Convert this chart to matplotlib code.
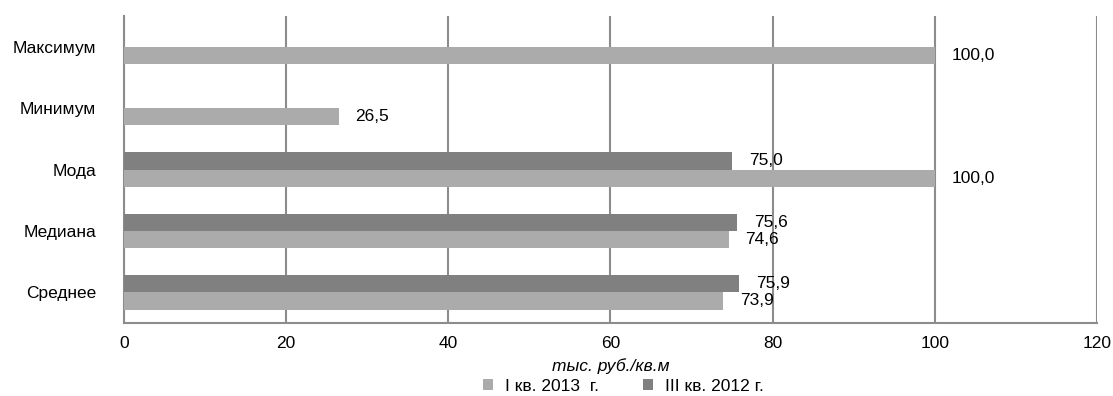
import numpy as np
from matplotlib import pyplot as plt

plt.rcParams['font.family'] = ['Liberation Sans', 'DejaVu Sans']

# данные
categories = ['Среднее', 'Медиана', 'Мода', 'Минимум', 'Максимум']
q1_2013 = [73.9, 74.6, 100.0, 26.5, 100.0]
q3_2012 = [75.9, 75.6, 75.0, np.nan, np.nan]
label_q1_2013 = 'I кв. 2013  г.'
label_q3_2012 = 'III кв. 2012 г.'
x_ticks = [0, 20, 40, 60, 80, 100, 120]

c_light = '#ababab'
c_dark = '#808080'
c_grid = '#8c8c8c'
fs = 12.5

fig = plt.figure(figsize=(11.13, 3.96), dpi=100)
ax = fig.add_axes([0.1114, 0.1843, 0.8742, 0.7753])

y = np.arange(len(categories))
h = 0.28
ax.barh(y - h / 2, q1_2013, height=h, color=c_light, label=label_q1_2013, zorder=3)
ax.barh(y + h / 2, q3_2012, height=h, color=c_dark, label=label_q3_2012, zorder=3)

# подписи значений
for yi, v in zip(y, q1_2013):
    if not np.isnan(v):
        ax.annotate(f'{v:.1f}'.replace('.', ','), (v, yi - h / 2), xytext=(12, 0),
                    textcoords='offset points', va='center', ha='left', fontsize=fs)
for yi, v in zip(y, q3_2012):
    if not np.isnan(v):
        ax.annotate(f'{v:.1f}'.replace('.', ','), (v, yi + h / 2), xytext=(12, 0),
                    textcoords='offset points', va='center', ha='left', fontsize=fs)

ax.set_xlim(0, 120)
ax.set_ylim(-0.5, len(categories) - 0.5)
ax.set_xticks(x_ticks)
ax.set_yticks(y)
ax.set_yticklabels(categories, fontsize=fs)
ax.tick_params(axis='x', length=0, pad=9, labelsize=fs)
ax.tick_params(axis='y', length=0, pad=20)
ax.grid(axis='x', color=c_grid, linewidth=1.5, zorder=0)
for s in ['top', 'right']:
    ax.spines[s].set_visible(False)
for s in ['left', 'bottom']:
    ax.spines[s].set_color(c_grid)
    ax.spines[s].set_linewidth(1.5)
ax.set_xlabel('тыс. руб./кв.м', fontstyle='italic', fontsize=fs, labelpad=5.5)

fig.legend(loc='center', bbox_to_anchor=(0.56, 0.024), ncol=2, frameon=False,
           handlelength=0.6, handleheight=0.6, columnspacing=2.5, handletextpad=0.7,
           fontsize=fs)

plt.savefig('out.png', dpi=100)
